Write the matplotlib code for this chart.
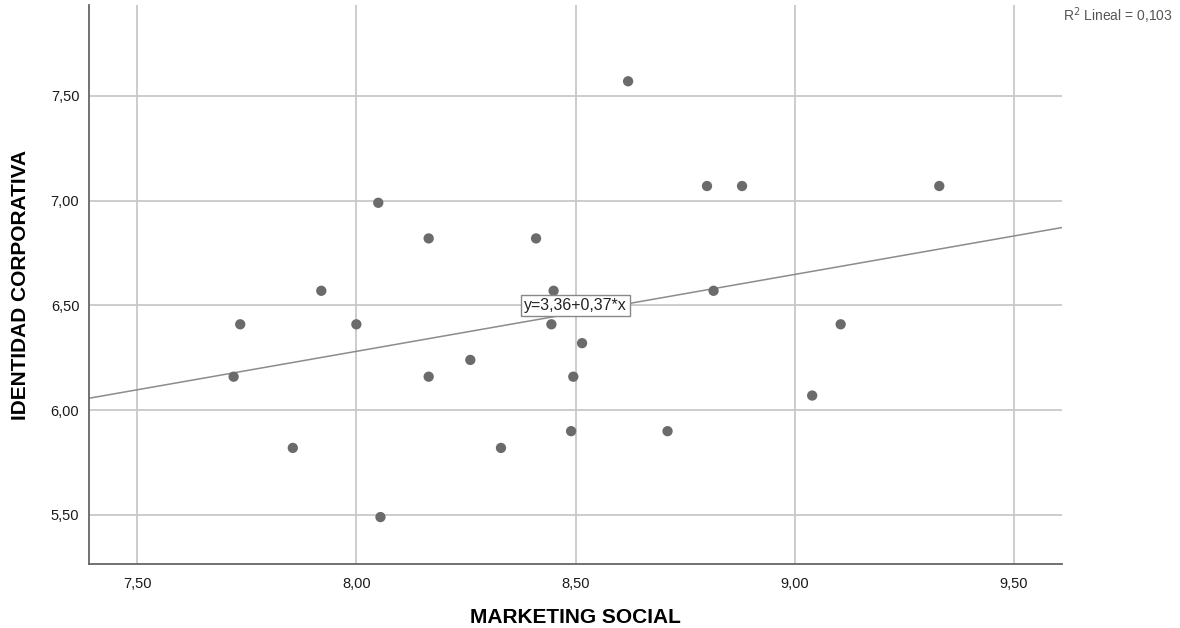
import matplotlib.pyplot as plt
import numpy as np
from matplotlib.ticker import FuncFormatter

plt.rcParams['font.family'] = ['Liberation Sans', 'DejaVu Sans']

# MARKETING SOCIAL vs IDENTIDAD CORPORATIVA
marketing = [7.72, 7.735, 7.855, 7.92, 8.00, 8.05, 8.055, 8.165, 8.165, 8.26,
             8.33, 8.41, 8.45, 8.445, 8.515, 8.495, 8.49, 8.62, 8.71, 8.80,
             8.88, 8.815, 9.04, 9.105, 9.33]
identidad = [6.16, 6.41, 5.82, 6.57, 6.41, 6.99, 5.49, 6.82, 6.16, 6.24,
             5.82, 6.82, 6.57, 6.41, 6.32, 6.16, 5.90, 7.57, 5.90, 7.07,
             7.07, 6.57, 6.07, 6.41, 7.07]
# fit line as drawn in the picture (label shows the rounded equation)
fit_intercept, fit_slope = 3.345, 0.367
fit_label = "y=3,36+0,37*x"
r2_label = "R$^2$ Lineal = 0,103"
x_ticks = [7.5, 8.0, 8.5, 9.0, 9.5]
y_ticks = [5.5, 6.0, 6.5, 7.0, 7.5]

fig = plt.figure(figsize=(11.8, 6.28), dpi=100)
ax = fig.add_axes([89 / 1180, 64 / 628, (1062 - 89) / 1180, (564 - 5) / 628])

xmin, xmax = 7.39, 9.61
ax.set_xlim(xmin, xmax)
ax.set_ylim(5.266, 7.934)

ax.grid(True, color="#c8c8c8", linewidth=1.3)
ax.set_axisbelow(True)
ax.set_xticks(x_ticks)
ax.set_yticks(y_ticks)
fmt = FuncFormatter(lambda v, p: f"{v:.2f}".replace(".", ","))
ax.xaxis.set_major_formatter(fmt)
ax.yaxis.set_major_formatter(fmt)
ax.tick_params(length=0, labelsize=10.5, colors="#1a1a1a")
ax.tick_params(axis="x", pad=9)
ax.tick_params(axis="y", pad=7)

for s in ["top", "right"]:
    ax.spines[s].set_visible(False)
for s in ["left", "bottom"]:
    ax.spines[s].set_color("#666666")
    ax.spines[s].set_linewidth(1.3)

xl = np.array([xmin, xmax])
ax.plot(xl, fit_intercept + fit_slope * xl, color="#8c8c8c", linewidth=1.1, zorder=2)

ax.scatter(marketing, identidad, s=55, color="#6b6b6b", edgecolors="none", zorder=3)

ax.text(8.5, 6.5, fit_label, fontsize=11.5, ha="center", va="center",
        color="#222222", zorder=4,
        bbox=dict(boxstyle="square,pad=0.18", facecolor="white", edgecolor="#888888", linewidth=1))

fig.text(1063 / 1180, 1 - 16 / 628, r2_label,
         fontsize=10, color="#555555", ha="left", va="center")

ax.set_xlabel("MARKETING SOCIAL", fontsize=15, fontweight="bold", labelpad=12.5)
ax.set_ylabel("IDENTIDAD CORPORATIVA", fontsize=15, fontweight="bold", labelpad=15)

fig.savefig("out.png", dpi=100)
